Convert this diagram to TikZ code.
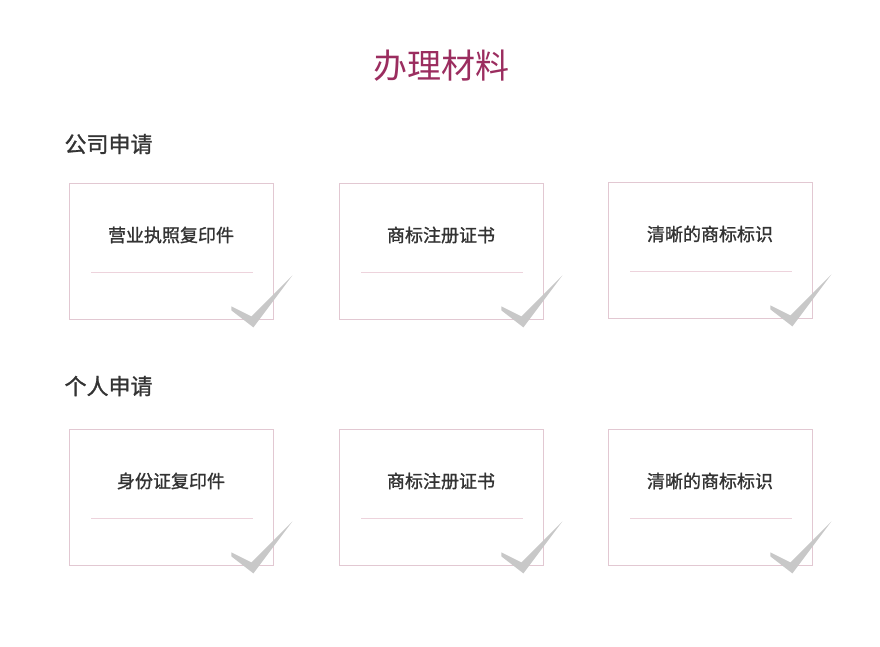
\documentclass[tikz,border=0pt]{standalone}
\usepackage{fontspec}
\setmainfont{Noto Sans CJK SC}
\newfontfamily\boldcjk[FakeBold=1.2]{Noto Sans CJK SC}
\definecolor{titlered}{HTML}{9B2D5F}
\definecolor{boxline}{HTML}{E2C8D2}
\definecolor{rule}{HTML}{EDD3DC}
\definecolor{tick}{HTML}{C8C8C8}
\definecolor{textgray}{HTML}{333333}
\usetikzlibrary{calc}
\tikzset{
  card/.style={draw=boxline, line width=0.8pt, minimum width=204pt, minimum height=136pt, inner sep=0pt},
  cardtext/.style={font=\boldcjk\fontsize{18}{21}\selectfont, text=textgray},
  head/.style={font=\boldcjk\fontsize{22}{25}\selectfont, text=textgray, anchor=west},
}
\newcommand{\tickmark}[1]{%
  \fill[tick] ($(#1.south east)+(-42,-13)$) -- ($(#1.south east)+(-22,-3)$)
    -- ($(#1.south east)+(19,-44)$) -- ($(#1.south east)+(-20,8)$)
    -- ($(#1.south east)+(-42,-9)$) -- cycle;}
\begin{document}
\begin{tikzpicture}[x=1pt,y=-1pt]
\useasboundingbox (0,0) rectangle (880,646);
\node[font=\fontsize{34}{37}\selectfont, text=titlered] (title) at (441,66) {办理材料};
\node[head] (company) at (61,144) {公司申请};
\node[head] (person) at (61,386) {个人申请};
% first row
\node[card] (a1) at (171,251) {};
\node[card] (a2) at (441,251) {};
\node[card] (a3) at (710,250) {};
% second row
\node[card] (b1) at (171,497) {};
\node[card] (b2) at (441,497) {};
\node[card] (b3) at (710,497) {};
\foreach \n/\t in {a1/营业执照复印件, a2/商标注册证书, a3/清晰的商标标识,
                   b1/身份证复印件, b2/商标注册证书, b3/清晰的商标标识}{
  \node[cardtext] (\n-label) at ($(\n.center)+(0,-16)$) {\t};
  \draw[rule, line width=1pt] ($(\n.center)+(-80,21)$) -- ($(\n.center)+(82,21)$);
  \tickmark{\n}
}
\end{tikzpicture}
\end{document}
